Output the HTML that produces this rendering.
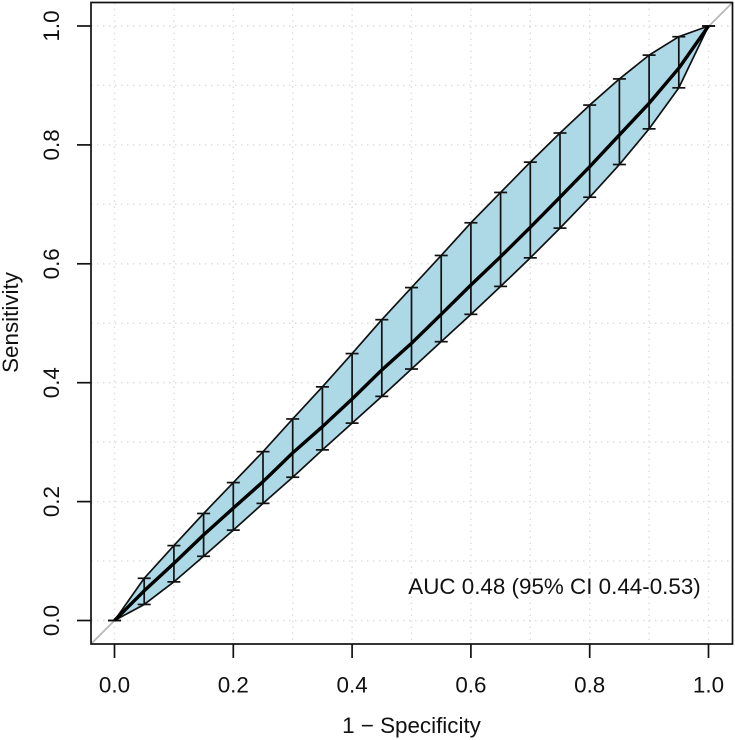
<!DOCTYPE html>
<html>
<head>
<meta charset="utf-8">
<title>ROC curve</title>
<style>
html,body{margin:0;padding:0;background:#fff;width:735px;height:740px;overflow:hidden}
svg{display:block}
text{font-family:"Liberation Sans",sans-serif;fill:#111;font-size:22.4px}
</style>
</head>
<body>
<svg id="chart" xmlns="http://www.w3.org/2000/svg" width="735" height="740" viewBox="0 0 735 740"></svg>
<script>
const fpr = [0,0.05,0.1,0.15,0.2,0.25,0.3,0.35,0.4,0.45,0.5,0.55,0.6,0.65,0.7,0.75,0.8,0.85,0.9,0.95,1];
const sensitivity = [0,0.05,0.096,0.144,0.189,0.2335,0.282,0.326,0.3726,0.4214,0.4663,0.515,0.5643,0.612,0.6614,0.712,0.7633,0.8167,0.87,0.929,1];
const upperCI = [0,0.071,0.126,0.18,0.232,0.284,0.339,0.393,0.449,0.506,0.56,0.614,0.669,0.72,0.771,0.82,0.867,0.911,0.951,0.982,1];
const lowerCI = [0,0.027,0.065,0.108,0.152,0.197,0.241,0.287,0.332,0.377,0.423,0.469,0.515,0.562,0.61,0.66,0.712,0.767,0.827,0.896,1];
const tickValues = [0,0.2,0.4,0.6,0.8,1];
const tickLabels = ["0.0","0.2","0.4","0.6","0.8","1.0"];
const gridValues = [0,0.1,0.2,0.3,0.4,0.5,0.6,0.7,0.8,0.9,1];
const annotationText = "AUC 0.48 (95% CI 0.44-0.53)";
const xTitle = "1 \u2212 Specificity";
const yTitle = "Sensitivity";

const svg = document.getElementById('chart');
const NS = 'http://www.w3.org/2000/svg';
const box = {l:91, r:732.5, t:2.5, b:644};
function xs(v){ return 114.5 + v * 594; }
function ys(v){ return 620.5 - v * 594.5; }
function mk(tag, attrs){
  const e = document.createElementNS(NS, tag);
  for (const k in attrs) e.setAttribute(k, attrs[k]);
  svg.appendChild(e);
  return e;
}
let el;

// grid
gridValues.forEach(function(v){
  el = mk('line', {x1:xs(v), x2:xs(v), y1:box.t, y2:box.b, stroke:'#dcdcdc', 'stroke-width':1.4, 'stroke-dasharray':'1.5 4.5'});
  
  
  el = mk('line', {x1:box.l, x2:box.r, y1:ys(v), y2:ys(v), stroke:'#dcdcdc', 'stroke-width':1.4, 'stroke-dasharray':'1.5 4.5'});
  
  
});

// diagonal reference line
el = mk('line', {x1:box.l, y1:box.b, x2:box.r, y2:box.t, stroke:'#b8b8b8', 'stroke-width':1.8});



// confidence band
const upperPts = fpr.map(function(f,i){ return xs(f).toFixed(2)+','+ys(upperCI[i]).toFixed(2); });
const lowerPts = fpr.map(function(f,i){ return xs(f).toFixed(2)+','+ys(lowerCI[i]).toFixed(2); }).reverse();
el = mk('polygon', {points:upperPts.concat(lowerPts).join(' '), fill:'#add8e6', stroke:'#111', 'stroke-width':1.7, 'stroke-linejoin':'round'});



// error bars
fpr.forEach(function(f,i){
  const x = xs(f);
  if (i > 0 && i < fpr.length - 1) {
    el = mk('line', {x1:x, x2:x, y1:ys(upperCI[i]), y2:ys(lowerCI[i]), stroke:'#111', 'stroke-width':1.7});
    
    
  }
  el = mk('line', {x1:x-6.5, x2:x+6.5, y1:ys(upperCI[i]), y2:ys(upperCI[i]), stroke:'#111', 'stroke-width':1.7});
  
  
  el = mk('line', {x1:x-6.5, x2:x+6.5, y1:ys(lowerCI[i]), y2:ys(lowerCI[i]), stroke:'#111', 'stroke-width':1.7});
  
  
});

// ROC curve
el = mk('polyline', {points:fpr.map(function(f,i){ return xs(f).toFixed(2)+','+ys(sensitivity[i]).toFixed(2); }).join(' '), fill:'none', stroke:'#000', 'stroke-width':3.4, 'stroke-linejoin':'round'});



// plot box
el = mk('rect', {x:box.l, y:box.t, width:box.r-box.l, height:box.b-box.t, fill:'none', stroke:'#111', 'stroke-width':1.7});



// ticks and labels
tickValues.forEach(function(v,i){
  el = mk('line', {x1:xs(v), x2:xs(v), y1:box.b, y2:box.b+14, stroke:'#111', 'stroke-width':1.7});
  
  
  el = mk('text', {x:xs(v), y:692.5, 'text-anchor':'middle'});
  el.textContent = tickLabels[i];
  
  
  el = mk('line', {x1:box.l-14, x2:box.l, y1:ys(v), y2:ys(v), stroke:'#111', 'stroke-width':1.7});
  
  
  el = mk('text', {x:0, y:0, 'text-anchor':'middle', transform:'translate(59 '+ys(v)+') rotate(-90)'});
  el.textContent = tickLabels[i];
  
  
});

// titles and annotation
el = mk('text', {x:411.5, y:733, 'text-anchor':'middle'});
el.textContent = xTitle;



el = mk('text', {x:0, y:0, 'text-anchor':'middle', transform:'translate(18 322.5) rotate(-90)'});
el.textContent = yTitle;



el = mk('text', {x:554.5, y:594, 'text-anchor':'middle'});
el.textContent = annotationText;


</script>
</body>
</html>
